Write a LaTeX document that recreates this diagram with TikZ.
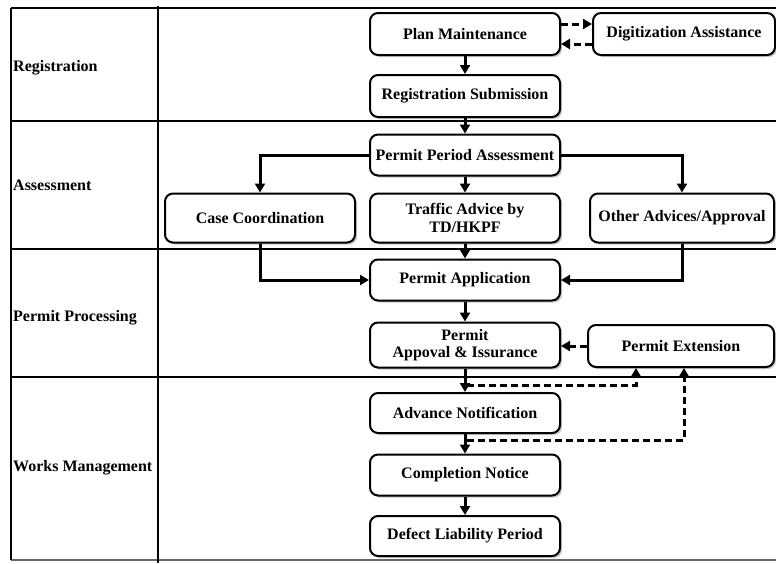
\documentclass[tikz,border=0pt]{standalone}
\usepackage{fontspec}
\setmainfont{Liberation Serif}
\usepackage{tikz}
\usetikzlibrary{arrows.meta,calc,positioning,shadows}

\tikzset{
  stepbox/.style={draw,line width=2pt,rounded corners=8pt,fill=white,
    minimum width=190pt,minimum height=42pt,align=center,inner sep=2pt,
    font=\fontsize{16}{17.5}\selectfont\bfseries,
    drop shadow={shadow xshift=2pt,shadow yshift=-2pt,opacity=0.45}},
  flow/.style={line width=3pt,-{Triangle[length=9pt,width=10pt]}},
  dflow/.style={flow,dash pattern=on 7pt off 4pt},
  rowlabel/.style={anchor=west,inner sep=0pt,font=\fontsize{16}{17.5}\selectfont\bfseries},
}

\begin{document}
\begin{tikzpicture}[x=1pt,y=-1pt]
\useasboundingbox (0,0) rectangle (776,563);
% lanes
\draw[line width=1.6pt] (11,8) -- (776,8);
\draw[line width=1.6pt] (11,121) -- (776,121);
\draw[line width=1.6pt] (11,249) -- (776,249);
\draw[line width=1.6pt] (11,377) -- (776,377);
\draw[line width=1.6pt,black!60] (11,560) -- (776,560);
\draw[line width=1.6pt] (11,8) -- (11,560);
\draw[line width=2.8pt] (158,6) -- (158,563);
\node[rowlabel] (lreg) at (13,68) {Registration};
\node[rowlabel] (lass) at (13,185) {Assessment};
\node[rowlabel] (lpp) at (13,318) {Permit Processing};
\node[rowlabel] (lwm) at (13,468) {Works Management};
% boxes
\node[stepbox] (pm) at (465,34) {Plan Maintenance};
\node[stepbox,minimum width=182pt] (da) at (684,34) {Digitization Assistance};
\node[stepbox] (rs) at (465,96) {Registration Submission};
\node[stepbox,minimum height=41pt] (ppa) at (465,155) {Permit Period Assessment};
\node[stepbox,minimum height=49pt] (cc) at (260,218) {Case Coordination};
\node[stepbox,minimum height=49pt] (ta) at (465,218) {Traffic Advice by\\TD/HKPF};
\node[stepbox,minimum height=49pt,minimum width=184pt] (oa) at (682,218) {Other Advices/Approval};
\node[stepbox,minimum height=41pt] (pa) at (465,280) {Permit Application};
\node[stepbox,minimum height=45pt] (pai) at (465,345) {Permit\\Appoval \& Issurance};
\node[stepbox,minimum width=186pt] (pe) at (681,346) {Permit Extension};
\node[stepbox,minimum height=40pt] (an) at (465,413) {Advance Notification};
\node[stepbox,minimum height=41pt] (cn) at (465,475) {Completion Notice};
\node[stepbox,minimum height=40pt] (dlp) at (465,536) {Defect Liability Period};
% connectors
\draw[flow] (pm) -- (rs);
\draw[dflow] ([yshift=10pt]pm.east) -- ([yshift=10pt]da.west);
\draw[dflow] ([yshift=-10pt]da.west) -- ([yshift=-10pt]pm.east);
\draw[flow] (rs) -- (ppa);
\draw[flow] (ppa.west) -| (cc.north);
\draw[flow] (ppa) -- (ta);
\draw[flow] (ppa.east) -| (oa.north);
\draw[flow] (cc.south) |- (pa.west);
\draw[flow] (ta) -- (pa);
\draw[flow] (oa.south) |- (pa.east);
\draw[flow] (pa) -- (pai);
\draw[dflow] (pe.west) -- (pe.west -| pai.east);
\draw[flow] (pai) -- (an);
\coordinate (t1) at (467,385);
\coordinate (t2) at (467,440);
\draw[dflow] (t1) -| ([xshift=-45pt]pe.south);
\draw[dflow] (t2) -| ([xshift=3pt]pe.south);
\draw[flow] (an) -- (cn);
\draw[flow] (cn) -- (dlp);
\end{tikzpicture}
\end{document}
